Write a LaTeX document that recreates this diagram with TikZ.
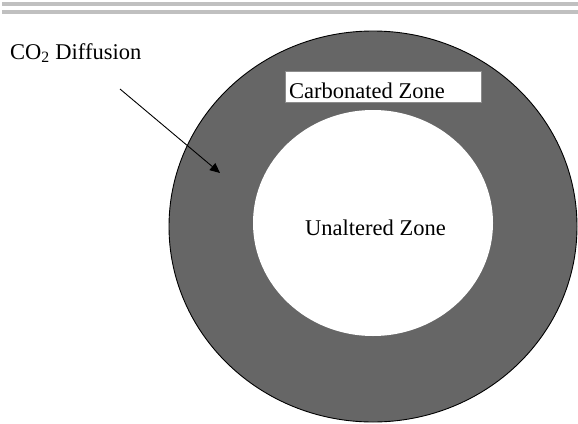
\documentclass[tikz,border=0pt]{standalone}
\usepackage{fontspec}
\setmainfont{Liberation Serif}
\usepackage{xcolor}
\usetikzlibrary{arrows.meta, positioning}
\definecolor{zonegray}{HTML}{666666}
\definecolor{rulegray}{HTML}{C0C0C0}

\begin{document}
\begin{tikzpicture}[x=1pt, y=-1pt,
    label/.style={inner sep=0pt, anchor=base west, font=\fontsize{22.5}{27}\selectfont},
    zonebox/.style={rectangle, draw=black!45, line width=0.8pt, fill=white},
    line/.style={draw=black, line width=0.9pt, -{Triangle[length=10pt, width=9pt]}}
]
    \useasboundingbox (0,0) rectangle (578,423);
    % Rules
    \fill[rulegray] (2,2) rectangle (578,6);
    \fill[rulegray] (2,10) rectangle (578,14);

    % Zones
    \draw[fill=zonegray, draw=black, line width=0.9pt] (373,226.5) ellipse [x radius=204, y radius=195.5];
    \fill[white] (373,223) ellipse [x radius=120, y radius=113];
    \draw[zonebox] (285,71) rectangle (481,102);

    % Nodes
    \node (co2) [label] at (10,59) {CO\textsubscript{2} Diffusion};
    \node (carb) [label] at (289,98) {Carbonated Zone};
    \node (unalt) [label] at (305,235) {Unaltered Zone};

    % Arrow
    \coordinate (diffstart) at (120,89);
    \coordinate (difftip) at (220,173);
    \draw [line] (diffstart) -- (difftip);
\end{tikzpicture}
\end{document}
